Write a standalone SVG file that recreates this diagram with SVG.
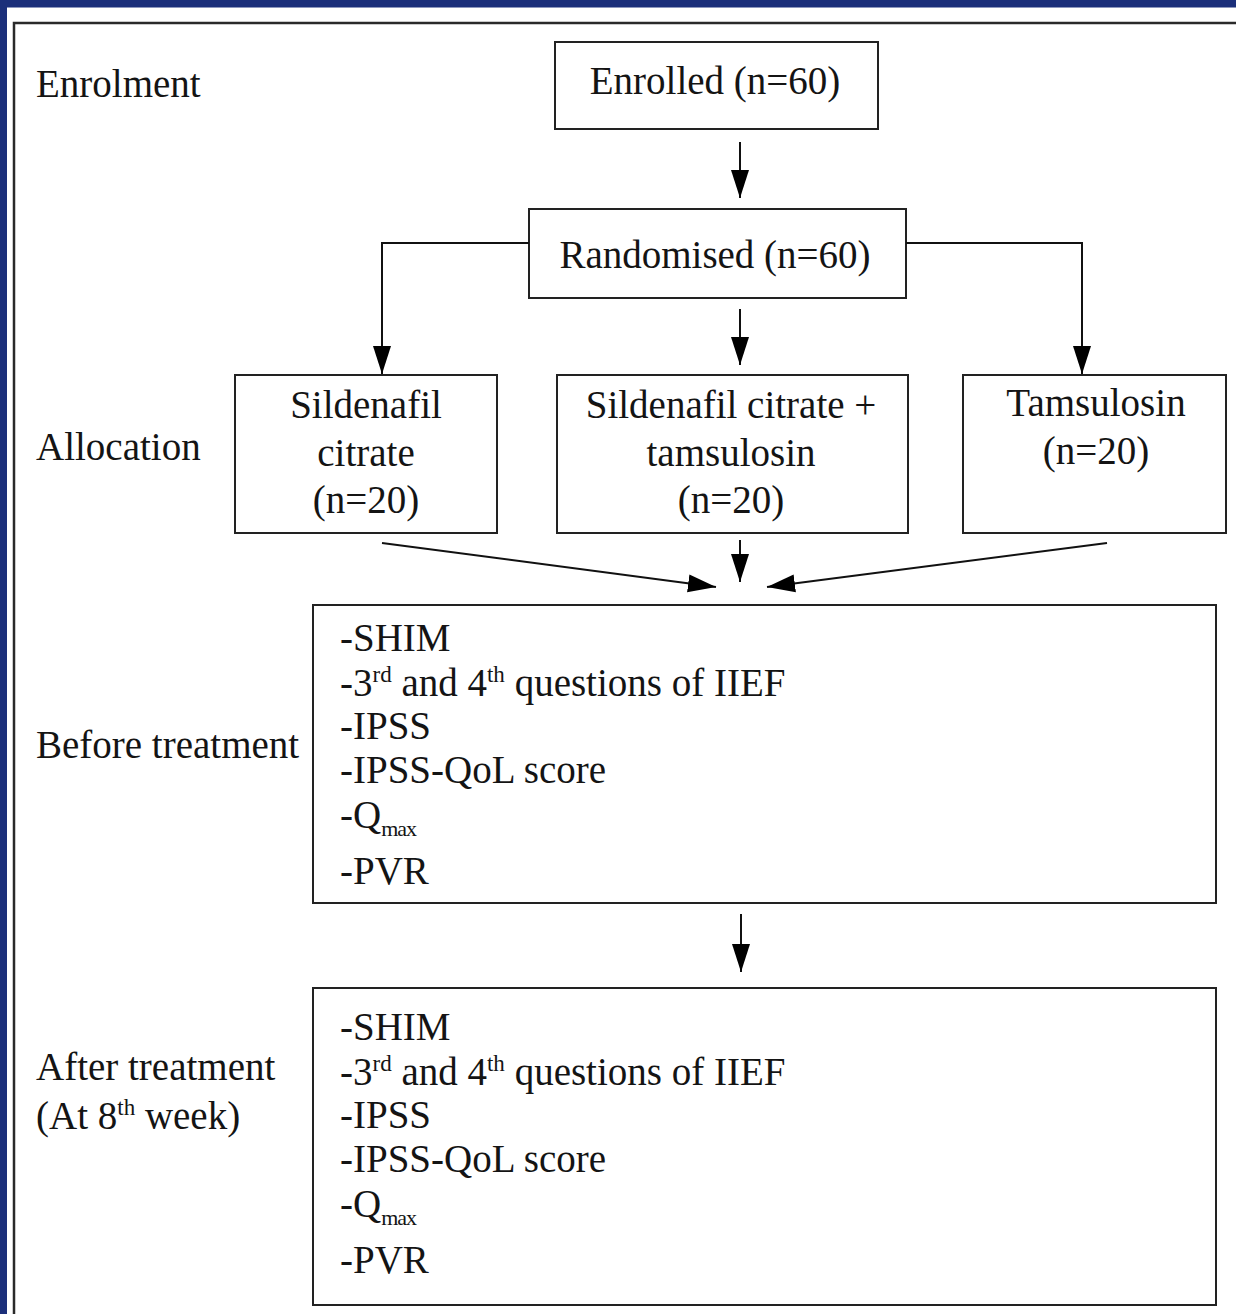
<svg xmlns="http://www.w3.org/2000/svg" width="1236" height="1314" viewBox="0 0 1236 1314">
<style>
.t{font-family:"Liberation Serif","Times New Roman",serif;font-size:39px;fill:#141414}
.c{text-anchor:middle}
.sup{font-size:23px}
.sub{font-size:22px;letter-spacing:-1px}
.box{fill:#fff;stroke:#222;stroke-width:2}
.ln{fill:none;stroke:#111;stroke-width:2}
</style>
<defs>
<marker id="ah" markerUnits="userSpaceOnUse" markerWidth="28" markerHeight="20" viewBox="0 0 28 20" refX="28" refY="10" orient="auto">
<path d="M0,1 L28,10 L0,19 z" fill="#000"/>
</marker>
</defs>
<rect x="0" y="0" width="1236" height="1314" fill="#fff"/>
<rect x="0" y="0" width="1236" height="7.5" fill="#1b2f7a"/>
<rect x="0" y="0" width="7" height="1314" fill="#1b2f7a"/>
<path d="M14,1314 V23 H1236" fill="none" stroke="#2a2a2a" stroke-width="2.5"/>

<g id="labels">
<text class="t" x="36" y="97">Enrolment</text>
<text class="t" x="36" y="460">Allocation</text>
<text class="t" x="36" y="758">Before treatment</text>
<text class="t" x="36" y="1080">After treatment</text>
<text class="t" x="36" y="1129">(At 8<tspan class="sup" dy="-14">th</tspan><tspan dy="14"> week)</tspan></text>
</g>

<g id="enrolled">
<rect class="box" x="555" y="42" width="323" height="87"/>
<text class="t c" x="715" y="94">Enrolled (n=60)</text>
</g>

<g id="randomised">
<rect class="box" x="529" y="209" width="377" height="89"/>
<text class="t c" x="715" y="268">Randomised (n=60)</text>
</g>

<g id="sildenafil">
<rect class="box" x="235" y="375" width="262" height="158"/>
<text class="t c" x="366" y="418">Sildenafil</text>
<text class="t c" x="366" y="466">citrate</text>
<text class="t c" x="366" y="513">(n=20)</text>
</g>

<g id="combination">
<rect class="box" x="557" y="375" width="351" height="158"/>
<text class="t c" x="731" y="418">Sildenafil citrate +</text>
<text class="t c" x="731" y="466">tamsulosin</text>
<text class="t c" x="731" y="513">(n=20)</text>
</g>

<g id="tamsulosin">
<rect class="box" x="963" y="375" width="263" height="158"/>
<text class="t c" x="1096" y="416">Tamsulosin</text>
<text class="t c" x="1096" y="464">(n=20)</text>
</g>

<g id="before">
<rect class="box" x="313" y="605" width="903" height="298"/>
<text class="t" x="340" y="651">-SHIM</text>
<text class="t" x="340" y="696">-3<tspan class="sup" dy="-14">rd</tspan><tspan dy="14"> and 4</tspan><tspan class="sup" dy="-14">th</tspan><tspan dy="14"> questions of IIEF</tspan></text>
<text class="t" x="340" y="739">-IPSS</text>
<text class="t" x="340" y="783">-IPSS-QoL score</text>
<text class="t" x="340" y="828">-Q<tspan class="sub" dy="8">max</tspan></text>
<text class="t" x="340" y="884">-PVR</text>
</g>

<g id="after">
<rect class="box" x="313" y="988" width="903" height="317"/>
<text class="t" x="340" y="1040">-SHIM</text>
<text class="t" x="340" y="1085">-3<tspan class="sup" dy="-14">rd</tspan><tspan dy="14"> and 4</tspan><tspan class="sup" dy="-14">th</tspan><tspan dy="14"> questions of IIEF</tspan></text>
<text class="t" x="340" y="1128">-IPSS</text>
<text class="t" x="340" y="1172">-IPSS-QoL score</text>
<text class="t" x="340" y="1217">-Q<tspan class="sub" dy="8">max</tspan></text>
<text class="t" x="340" y="1273">-PVR</text>
</g>

<g id="connectors">
<line class="ln" x1="740" y1="142" x2="740" y2="198" marker-end="url(#ah)"/>
<path class="ln" d="M529,243 H382 V374" marker-end="url(#ah)"/>
<path class="ln" d="M906,243 H1082 V374" marker-end="url(#ah)"/>
<line class="ln" x1="740" y1="309" x2="740" y2="365" marker-end="url(#ah)"/>
<line class="ln" x1="740" y1="540" x2="740" y2="582" marker-end="url(#ah)"/>
<line class="ln" x1="382" y1="543" x2="716" y2="587" marker-end="url(#ah)"/>
<line class="ln" x1="1107" y1="543" x2="767" y2="587" marker-end="url(#ah)"/>
<line class="ln" x1="741" y1="914" x2="741" y2="972" marker-end="url(#ah)"/>
</g>
</svg>
